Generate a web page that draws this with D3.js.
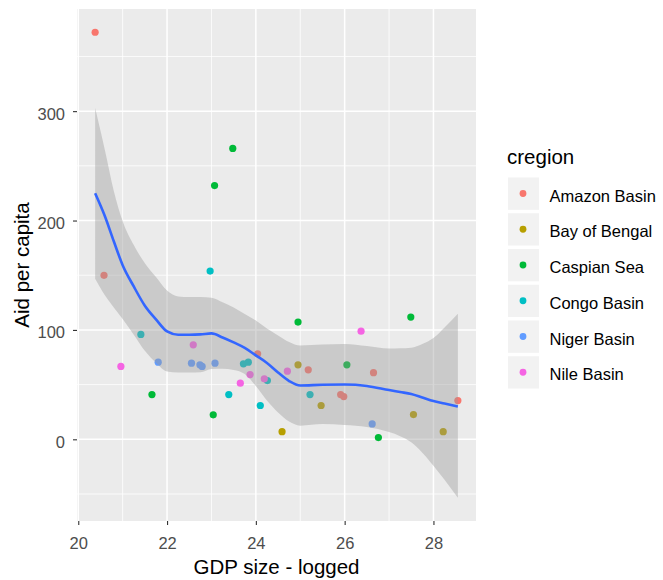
<!DOCTYPE html>
<html>
<head>
<meta charset="utf-8">
<script src="https://cdn.jsdelivr.net/npm/d3@7"></script>
<style>
  body { margin: 0; background: #ffffff; }
  text { font-family: "Liberation Sans", Arial, sans-serif; }
</style>
</head>
<body>
<svg id="chart" width="663" height="580"></svg>
<script>
// Regions and their hue colours
const regions = ["Amazon Basin", "Bay of Bengal", "Caspian Sea", "Congo Basin", "Niger Basin", "Nile Basin"];
const regionColors = ["#F8766D", "#B79F00", "#00BA38", "#00BFC4", "#619CFF", "#F564E3"];

// Country observations: logged GDP, aid per capita, region
const gdpLogged = [
  20.38, 20.58, 24.04, 25.18, 25.91, 25.98, 26.65, 28.55,
  24.59, 24.95, 25.47, 27.55, 28.22,
  21.66, 23.04, 23.07, 23.48, 24.95, 26.05, 26.76, 27.49,
  21.41, 22.97, 23.39, 23.72, 23.83, 24.10, 24.26, 25.22,
  21.80, 22.55, 22.74, 22.79, 23.08, 26.62,
  20.96, 22.59, 23.65, 23.87, 24.19, 24.71, 26.37
];
const aidPerCapita = [
  372.1, 149.9, 78.2, 63.5, 40.9, 39.1, 60.9, 35.4,
  7.0, 68.1, 30.9, 22.6, 7.0,
  40.9, 22.4, 232.0, 265.9, 107.2, 68.1, 1.6, 111.7,
  95.9, 153.8, 40.9, 69.0, 70.5, 30.9, 53.7, 40.9,
  70.5, 69.6, 68.1, 66.6, 69.6, 14.1,
  66.6, 86.4, 51.3, 59.2, 55.3, 62.3, 98.9
];
const countryRegion = [
  "Amazon Basin", "Amazon Basin", "Amazon Basin", "Amazon Basin", "Amazon Basin", "Amazon Basin", "Amazon Basin", "Amazon Basin",
  "Bay of Bengal", "Bay of Bengal", "Bay of Bengal", "Bay of Bengal", "Bay of Bengal",
  "Caspian Sea", "Caspian Sea", "Caspian Sea", "Caspian Sea", "Caspian Sea", "Caspian Sea", "Caspian Sea", "Caspian Sea",
  "Congo Basin", "Congo Basin", "Congo Basin", "Congo Basin", "Congo Basin", "Congo Basin", "Congo Basin", "Congo Basin",
  "Niger Basin", "Niger Basin", "Niger Basin", "Niger Basin", "Niger Basin", "Niger Basin",
  "Nile Basin", "Nile Basin", "Nile Basin", "Nile Basin", "Nile Basin", "Nile Basin", "Nile Basin"
];

// Loess smoother with its confidence band
const smoothX = [20.38, 20.6, 20.8, 21.0, 21.25, 21.5, 21.75, 22.0, 22.25, 22.5, 22.75, 23.0, 23.25, 23.5, 23.75,
                 24.0, 24.25, 24.5, 24.75, 25.0, 25.5, 26.0, 26.5, 27.0, 27.25, 27.5, 27.75, 28.0, 28.25, 28.55];
const smoothFit = [224.9, 203.9, 181.0, 159.2, 139.7, 122.1, 109.6, 98.6, 95.6, 95.6, 95.9, 96.8, 93.1, 88.6, 83.5,
                   76.7, 69.8, 61.1, 53.3, 49.2, 49.9, 50.1, 48.8, 45.0, 43.2, 41.4, 38.2, 35.0, 32.7, 29.9];
const smoothUpper = [302.8, 264.3, 227.1, 199.3, 177.6, 160.9, 148.3, 136.0, 130.6, 130.0, 130.0, 129.3, 125.2, 120.6, 114.6,
                     108.7, 101.4, 95.0, 89.0, 85.8, 86.7, 87.2, 85.3, 83.0, 83.2, 83.8, 87.2, 92.6, 102.3, 114.8];
const smoothLower = [146.8, 131.6, 120.4, 109.9, 95.7, 80.9, 70.0, 62.0, 61.1, 61.1, 61.3, 64.3, 64.5, 63.4, 59.7,
                     48.7, 35.4, 24.4, 16.2, 12.5, 13.9, 13.0, 11.2, 6.6, 2.9, -2.6, -12.2, -24.1, -36.9, -53.4];

// Axis breaks
const xTicks = [20, 22, 24, 26, 28];
const xMinor = [21, 23, 25, 27];
const yTicks = [0, 100, 200, 300];
const yMinor = [-50, 50, 150, 250, 350];

const points = gdpLogged.map((g, i) => ({ x: g, y: aidPerCapita[i], region: countryRegion[i] }));
const band = smoothX.map((x, i) => ({ x, fit: smoothFit[i], lo: smoothLower[i], hi: smoothUpper[i] }));

const panel = { left: 77, top: 9, right: 476, bottom: 521 };

// 5% expansion on each side of the data range
function expand([a, b]) { const d = (b - a) * 0.05; return [a - d, b + d]; }
const xExt = expand(d3.extent(gdpLogged.concat(smoothX)));
const yExt = expand(d3.extent(aidPerCapita.concat(smoothLower, smoothUpper)));

const x = d3.scaleLinear().domain(xExt).range([panel.left, panel.right]);
const y = d3.scaleLinear().domain(yExt).range([panel.bottom, panel.top]);
const color = d3.scaleOrdinal().domain(regions).range(regionColors);

const svg = d3.select("#chart");

// Panel background
svg.append("rect")
  .attr("x", panel.left).attr("y", panel.top)
  .attr("width", panel.right - panel.left).attr("height", panel.bottom - panel.top)
  .attr("fill", "#EBEBEB");

const grid = svg.append("g").attr("stroke", "#ffffff").attr("fill", "none");
grid.selectAll(".xminor").data(xMinor).join("line")
  .attr("x1", d => x(d)).attr("x2", d => x(d))
  .attr("y1", panel.top).attr("y2", panel.bottom).attr("stroke-width", 0.8);
grid.selectAll(".yminor").data(yMinor).join("line")
  .attr("y1", d => y(d)).attr("y2", d => y(d))
  .attr("x1", panel.left).attr("x2", panel.right).attr("stroke-width", 0.8);
grid.selectAll(".xmajor").data(xTicks).join("line")
  .attr("x1", d => x(d)).attr("x2", d => x(d))
  .attr("y1", panel.top).attr("y2", panel.bottom).attr("stroke-width", 1.5);
grid.selectAll(".ymajor").data(yTicks).join("line")
  .attr("y1", d => y(d)).attr("y2", d => y(d))
  .attr("x1", panel.left).attr("x2", panel.right).attr("stroke-width", 1.5);

// Scatter points
svg.append("g").selectAll("circle").data(points).join("circle")
  .attr("cx", d => x(d.x)).attr("cy", d => y(d.y)).attr("r", 3.6)
  .attr("fill", d => color(d.region));

// Confidence band, drawn over the points
svg.append("path").datum(band)
  .attr("d", d3.area().x(d => x(d.x)).y0(d => y(d.lo)).y1(d => y(d.hi)).curve(d3.curveMonotoneX))
  .attr("fill", "#999999").attr("fill-opacity", 0.4);

// Smoothed line
svg.append("path").datum(band)
  .attr("d", d3.line().x(d => x(d.x)).y(d => y(d.fit)).curve(d3.curveMonotoneX))
  .attr("fill", "none").attr("stroke", "#3366FF").attr("stroke-width", 2.6);

// Axes
const xAxis = svg.append("g").attr("transform", `translate(0,${panel.bottom})`)
  .call(d3.axisBottom(x).tickValues(xTicks).tickFormat(d3.format("d")).tickSize(4).tickPadding(4));
xAxis.select(".domain").remove();
xAxis.selectAll(".tick line").attr("stroke", "#333333").attr("stroke-width", 1.1);
xAxis.selectAll(".tick text").attr("fill", "#4D4D4D").attr("font-size", "16.5px")
  .attr("y", 28).attr("dy", null).style("font-family", "'Liberation Sans', Arial, sans-serif");

const yAxis = svg.append("g").attr("transform", `translate(${panel.left},0)`)
  .call(d3.axisLeft(y).tickValues(yTicks).tickFormat(d3.format("d")).tickSize(4).tickPadding(8));
yAxis.select(".domain").remove();
yAxis.selectAll(".tick line").attr("stroke", "#333333").attr("stroke-width", 1.1);
yAxis.selectAll(".tick text").attr("fill", "#4D4D4D").attr("font-size", "16.5px")
  .attr("dy", null).attr("y", 8).style("font-family", "'Liberation Sans', Arial, sans-serif");

// Axis titles
svg.append("text")
  .attr("x", (panel.left + panel.right) / 2).attr("y", 574)
  .attr("text-anchor", "middle").attr("font-size", "20.5px").attr("fill", "#000")
  .text("GDP size - logged");
svg.append("text")
  .attr("transform", `translate(28.5,${(panel.top + panel.bottom) / 2}) rotate(-90)`)
  .attr("text-anchor", "middle").attr("font-size", "20.5px").attr("fill", "#000")
  .text("Aid per capita");

// Legend
const legend = svg.append("g");
legend.append("text").attr("x", 507).attr("y", 163.5)
  .attr("font-size", "20.5px").attr("fill", "#000").text("cregion");
const keyPitch = 35.75, keyTop = 177.5;
const keys = legend.selectAll(".key").data(regions).join("g")
  .attr("transform", (d, i) => `translate(508,${keyTop + i * keyPitch})`);
keys.append("rect").attr("width", 31).attr("height", 32.3).attr("fill", "#F2F2F2");
keys.append("circle").attr("cx", 15).attr("cy", 16).attr("r", 3.4).attr("fill", d => color(d));
keys.append("text").attr("x", 41.5).attr("y", 24)
  .attr("font-size", "16.5px").attr("fill", "#000").text(d => d);
</script>
</body>
</html>
